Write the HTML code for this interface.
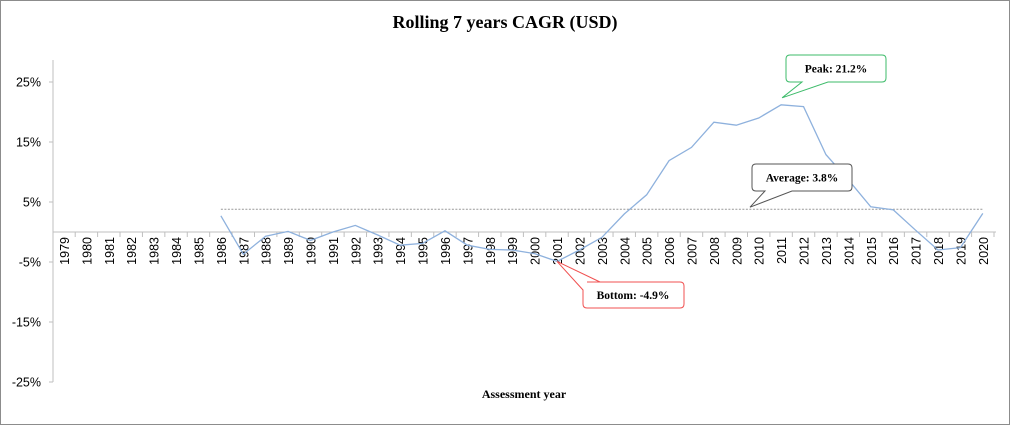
<!DOCTYPE html>
<html><head><meta charset="utf-8"><style>
body{margin:0;background:#fff}
svg{display:block;font-family:"Liberation Serif",serif}
</style></head><body>
<svg id="chart" width="1010" height="425" xmlns="http://www.w3.org/2000/svg">
<rect x="0.5" y="0.5" width="1009" height="424" fill="#fff" stroke="#8c8c8c"/>
<text x="505" y="28" text-anchor="middle" font-size="18" font-weight="bold">Rolling 7 years CAGR (USD)</text>
<text x="524" y="398" text-anchor="middle" font-size="12" font-weight="bold">Assessment year</text>
<g id="axes"></g>
<g id="series"></g>
<g id="callouts"></g>
</svg>
<script>
const years=[];for(let y=1979;y<=2020;y++)years.push(y);
const dataYears=[1986,1987,1988,1989,1990,1991,1992,1993,1994,1995,1996,1997,1998,1999,2000,2001,2002,2003,2004,2005,2006,2007,2008,2009,2010,2011,2012,2013,2014,2015,2016,2017,2018,2019,2020];
const cagr=[2.7,-3.7,-0.7,0.1,-1.4,0.0,1.1,-0.5,-2.2,-1.9,0.2,-2.2,-2.9,-3.0,-3.6,-4.9,-3.0,-0.9,3.0,6.2,11.9,14.1,18.3,17.8,19.0,21.2,20.9,12.9,8.7,4.2,3.7,0.3,-3.0,-2.6,3.1];
const average=3.8;
const yTicks=[25,15,5,-5,-15,-25];
const NS="http://www.w3.org/2000/svg";
const x0=64,step=22.41;
function xs(yr){return x0+(yr-1979)*step;}
function ys(v){return 232-v*6;}
function mk(tag,attrs,parent,text){const e=document.createElementNS(NS,tag);for(const k in attrs)e.setAttribute(k,attrs[k]);if(text!==undefined)e.textContent=text;parent.appendChild(e);return e;}
const axes=document.getElementById('axes');
let l=mk('line',{x1:53,y1:60,x2:53,y2:382,stroke:'#bfbfbf'},axes);


yTicks.forEach(t=>{
 const tk=mk('line',{x1:49,y1:ys(t),x2:53,y2:ys(t),stroke:'#bfbfbf'},axes);
 
 
 const tx=mk('text',{x:41,y:ys(t)+4.5,'text-anchor':'end','font-size':'12.5','font-family':'Liberation Sans, sans-serif'},axes,t+'%');
 
 
});
const xa=mk('line',{x1:53,y1:ys(0),x2:996,y2:ys(0),stroke:'#bfbfbf'},axes);


years.forEach(yr=>{
 const bx=xs(yr)+step/2;
 const tk=mk('line',{x1:bx,y1:232,x2:bx,y2:237,stroke:'#bfbfbf'},axes);
 
 
 const cx=xs(yr)+5;
 const tx=mk('text',{x:cx,y:237,'text-anchor':'end','font-size':'12.5','font-family':'Liberation Sans, sans-serif',transform:`rotate(-90 ${cx} 237)`},axes,String(yr));
 
 
});
const s=document.getElementById('series');
const av=mk('line',{x1:xs(1986),y1:ys(average),x2:xs(2020),y2:ys(average),stroke:'#999','stroke-dasharray':'2 1.5','stroke-width':1},s);


const pts=dataYears.map((yr,i)=>xs(yr)+','+ys(cagr[i])).join(' ');
const pl=mk('polyline',{points:pts,fill:'none',stroke:'#8eb1dd','stroke-width':1.3},s);


const c=document.getElementById('callouts');
function callout(name,bx,by,w,h,px,py,b1,b2,color,label){
 const g=mk('g',{},c);
 
 
 mk('path',{d:`M${bx+4},${by} H${bx+w-4} Q${bx+w},${by} ${bx+w},${by+4} V${by+h-4} Q${bx+w},${by+h} ${bx+w-4},${by+h} H${b2} L${px},${py} L${b1},${by+h} H${bx+4} Q${bx},${by+h} ${bx},${by+h-4} V${by+4} Q${bx},${by} ${bx+4},${by} Z`,fill:'#fff',stroke:color},g);
 mk('text',{x:bx+w/2,y:by+h/2+4,'text-anchor':'middle','font-size':'11.5','font-weight':'bold'},g,label);
}
const pi=cagr.indexOf(Math.max(...cagr)),bi=cagr.indexOf(Math.min(...cagr));
callout('peak-callout',786,55,100,27,xs(dataYears[pi])+1,ys(cagr[pi])-7,802,828,'#3dbb6a','Peak: 21.2%');
callout('average-callout',752,164,100,27,750,ys(average)-2,765,792,'#555','Average: 3.8%');
const g=mk('g',{},c);


const px=xs(dataYears[bi]),py=ys(cagr[bi]);
mk('path',{d:`M587,282 H${680} Q684,282 684,286 V304 Q684,308 680,308 H587 Q583,308 583,304 V290 L${px},${py} L600,282 Z`,fill:'#fff',stroke:'#f05050'},g);
mk('text',{x:633,y:299,'text-anchor':'middle','font-size':'11.5','font-weight':'bold'},g,'Bottom: -4.9%');
</script>
</body></html>
